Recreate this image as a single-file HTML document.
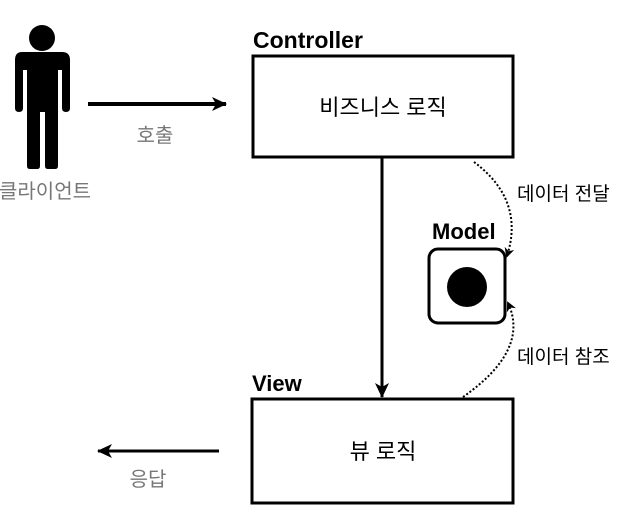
<!DOCTYPE html>
<html><head><meta charset="utf-8"><style>
body{margin:0;background:#fff;width:632px;height:526px;overflow:hidden}
text{font-family:"Liberation Sans","Noto Sans CJK KR",sans-serif}
</style></head><body>
<svg width="632" height="526" viewBox="0 0 632 526" xmlns="http://www.w3.org/2000/svg">
<defs>
<marker id="a" markerWidth="16" markerHeight="16" refX="14" refY="8" orient="auto" markerUnits="userSpaceOnUse"><path d="M0,1 L15,8 L0,15 L4,8 Z" fill="#000"/></marker>
<marker id="s" markerWidth="10" markerHeight="10" refX="8" refY="5" orient="auto" markerUnits="userSpaceOnUse"><path d="M0,0 L10,5 L0,10 L3,5 Z" fill="#000"/></marker>
</defs>
<circle cx="42" cy="38" r="13" fill="#000"/>
<path d="M22,52 H62 Q70,52 70,60 V108 Q70,112 66,112 Q62,112 62,108 V70 H58 V166 Q58,169 55,169 H48 Q45,169 45,166 V112 H40 V166 Q40,169 37,169 H30 Q27,169 27,166 V70 H23 V108 Q23,112 19,112 Q15,112 15,108 V60 Q15,52 22,52 Z" fill="#000"/>
<text x="45" y="198" font-size="20" fill="#777" text-anchor="middle">클라이언트</text>
<line x1="88" y1="104" x2="226" y2="104" stroke="#000" stroke-width="4" marker-end="url(#a)"/>
<text x="155" y="142" font-size="20" fill="#777" text-anchor="middle">호출</text>
<text x="253" y="48" font-size="23" font-weight="bold">Controller</text>
<rect x="253" y="56" width="260" height="101" fill="#fff" stroke="#000" stroke-width="3"/>
<text x="383" y="115" font-size="22" text-anchor="middle">비즈니스 로직</text>
<line x1="382" y1="158" x2="382" y2="397" stroke="#000" stroke-width="3" marker-end="url(#a)"/>
<text x="252" y="391" font-size="22" font-weight="bold">View</text>
<rect x="252" y="399" width="261" height="104" fill="#fff" stroke="#000" stroke-width="3"/>
<text x="383" y="459" font-size="22" text-anchor="middle">뷰 로직</text>
<line x1="219" y1="451" x2="98" y2="451" stroke="#000" stroke-width="3" marker-end="url(#a)"/>
<text x="148" y="486" font-size="20" fill="#777" text-anchor="middle">응답</text>
<text x="432" y="239" font-size="22" font-weight="bold">Model</text>
<rect x="429" y="249" width="76" height="74" rx="9" fill="#fff" stroke="#000" stroke-width="3"/>
<circle cx="467" cy="287" r="20" fill="#000"/>
<path d="M474,162 Q525,200 507,256" fill="none" stroke="#000" stroke-width="2" stroke-dasharray="2,2" marker-end="url(#s)"/>
<path d="M463,397 Q530,350 508,303" fill="none" stroke="#000" stroke-width="2" stroke-dasharray="2,2" marker-end="url(#s)"/>
<text x="517" y="200" font-size="19">데이터 전달</text>
<text x="517" y="363" font-size="19">데이터 참조</text>
</svg>
</body></html>
